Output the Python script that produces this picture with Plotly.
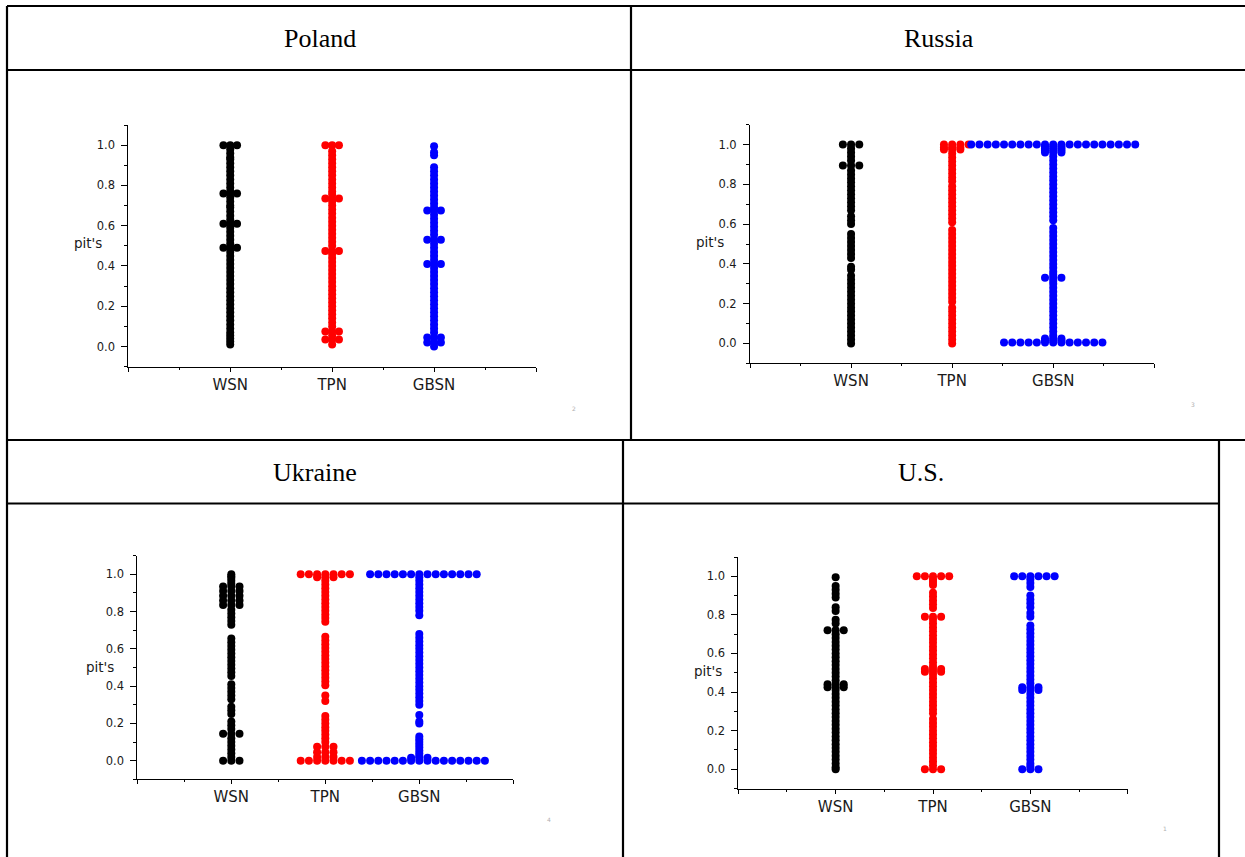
import plotly.graph_objects as go

# ---------------- data ----------------
categories = ["WSN", "TPN", "GBSN"]
countries = ["Poland", "Russia", "Ukraine", "U.S."]
page_marks = ["2", "3", "4", "1"]
y_ticks = [0.0, 0.2, 0.4, 0.6, 0.8, 1.0]
y_title = "pit's"

poland_wsn = [1.0, 1.0, 1.0, 0.98, 0.96, 0.94, 0.93, 0.91, 0.89, 0.87, 0.85, 0.83, 0.81, 0.79, 0.77,
              0.76, 0.76, 0.76, 0.74, 0.72, 0.70, 0.69, 0.67, 0.65, 0.63, 0.61, 0.61, 0.61, 0.59, 0.57,
              0.55, 0.53, 0.51, 0.49, 0.49, 0.49, 0.47, 0.45, 0.43, 0.41, 0.39, 0.37, 0.35, 0.33, 0.31,
              0.29, 0.27, 0.25, 0.23, 0.21, 0.19, 0.17, 0.15, 0.13, 0.11, 0.09, 0.07, 0.055, 0.04,
              0.025, 0.01]
poland_tpn = [1.0, 1.0, 1.0, 0.97, 0.95, 0.93, 0.91, 0.89, 0.87, 0.85, 0.83, 0.81, 0.79, 0.77, 0.755,
              0.735, 0.735, 0.735, 0.72, 0.70, 0.68, 0.66, 0.64, 0.62, 0.60, 0.58, 0.56, 0.54, 0.52,
              0.50, 0.475, 0.475, 0.475, 0.46, 0.44, 0.42, 0.40, 0.38, 0.36, 0.34, 0.32, 0.30, 0.28,
              0.26, 0.24, 0.22, 0.20, 0.18, 0.16, 0.14, 0.12, 0.10, 0.075, 0.075, 0.075, 0.055,
              0.035, 0.035, 0.035, 0.01]
poland_gbsn = [0.995, 0.965, 0.95, 0.89, 0.87, 0.85, 0.83, 0.81, 0.79, 0.77, 0.75, 0.73, 0.71, 0.69,
               0.675, 0.675, 0.675, 0.655, 0.635, 0.615, 0.595, 0.575, 0.555, 0.53, 0.53, 0.53, 0.51,
               0.49, 0.47, 0.45, 0.43, 0.41, 0.41, 0.41, 0.39, 0.37, 0.35, 0.33, 0.31, 0.29, 0.27,
               0.25, 0.23, 0.21, 0.19, 0.17, 0.15, 0.13, 0.11, 0.09, 0.07, 0.045, 0.045, 0.045,
               0.02, 0.02, 0.02, 0.0]

russia_wsn = [1.0, 1.0, 1.0, 0.98, 0.96, 0.94, 0.92, 0.895, 0.895, 0.895, 0.87, 0.85, 0.83, 0.81,
              0.79, 0.77, 0.75, 0.73, 0.71, 0.69, 0.67, 0.64, 0.62, 0.60, 0.55, 0.53, 0.51, 0.49,
              0.47, 0.45, 0.43, 0.385, 0.37, 0.34, 0.32, 0.30, 0.28, 0.26, 0.24, 0.22, 0.20, 0.18,
              0.16, 0.14, 0.12, 0.10, 0.08, 0.06, 0.04, 0.02, 0.0]
russia_tpn = [1.0, 1.0, 1.0, 1.0, 0.985, 0.985, 0.985, 0.975, 0.975, 0.975, 0.955, 0.935, 0.915,
              0.895, 0.875, 0.855, 0.835, 0.815, 0.79, 0.77, 0.75, 0.73, 0.71, 0.69, 0.67, 0.65,
              0.63, 0.61, 0.57, 0.55, 0.53, 0.51, 0.49, 0.47, 0.45, 0.43, 0.41, 0.39, 0.37, 0.35,
              0.33, 0.31, 0.29, 0.27, 0.25, 0.23, 0.21, 0.18, 0.16, 0.14, 0.12, 0.10, 0.08, 0.06,
              0.04, 0.02, 0.0]
russia_gbsn = [1.0, 1.0, 1.0, 1.0, 1.0, 1.0, 1.0, 1.0, 1.0, 1.0, 1.0, 1.0, 1.0, 1.0, 1.0, 1.0, 1.0,
               1.0, 1.0, 1.0, 1.0, 0.99, 0.99, 0.99, 0.98, 0.98, 0.98, 0.97, 0.97, 0.97, 0.96, 0.96,
               0.96, 0.94, 0.92, 0.90, 0.88, 0.86, 0.84, 0.82, 0.80, 0.78, 0.76, 0.74, 0.72, 0.70,
               0.68, 0.66, 0.64, 0.62, 0.58, 0.56, 0.54, 0.52, 0.50, 0.48, 0.46, 0.44, 0.42, 0.40,
               0.38, 0.36, 0.345, 0.33, 0.33, 0.33, 0.315, 0.30, 0.28, 0.26, 0.24, 0.22, 0.20, 0.18,
               0.16, 0.14, 0.12, 0.10, 0.08, 0.06, 0.04, 0.025, 0.025, 0.025, 0.015, 0.015, 0.015,
               0.005, 0.005, 0.005, 0.005, 0.005, 0.005, 0.005, 0.005, 0.005, 0.005, 0.005, 0.005,
               0.005]

ukraine_wsn = [1.0, 0.99, 0.98, 0.965, 0.95, 0.935, 0.935, 0.935, 0.91, 0.91, 0.91, 0.885, 0.885,
               0.885, 0.86, 0.86, 0.86, 0.835, 0.835, 0.835, 0.81, 0.79, 0.77, 0.75, 0.73, 0.655,
               0.635, 0.615, 0.595, 0.575, 0.555, 0.535, 0.515, 0.495, 0.475, 0.455, 0.41, 0.39,
               0.37, 0.35, 0.33, 0.29, 0.27, 0.25, 0.21, 0.19, 0.17, 0.145, 0.145, 0.145, 0.12,
               0.10, 0.08, 0.06, 0.04, 0.02, 0.0, 0.0, 0.0]
ukraine_tpn = [1.0, 1.0, 1.0, 1.0, 1.0, 1.0, 1.0, 0.985, 0.985, 0.985, 0.965, 0.945, 0.925, 0.905,
               0.885, 0.865, 0.845, 0.825, 0.805, 0.785, 0.765, 0.745, 0.665, 0.645, 0.625, 0.605,
               0.585, 0.565, 0.545, 0.525, 0.505, 0.485, 0.465, 0.445, 0.425, 0.405, 0.35, 0.32,
               0.24, 0.22, 0.20, 0.18, 0.16, 0.14, 0.12, 0.10, 0.075, 0.075, 0.075, 0.045, 0.045,
               0.045, 0.02, 0.02, 0.02, 0.0, 0.0, 0.0, 0.0, 0.0, 0.0, 0.0]
ukraine_gbsn = [1.0, 1.0, 1.0, 1.0, 1.0, 1.0, 1.0, 1.0, 1.0, 1.0, 1.0, 1.0, 1.0, 1.0, 0.985, 0.965,
                0.945, 0.925, 0.905, 0.885, 0.865, 0.845, 0.825, 0.805, 0.78, 0.68, 0.66, 0.64,
                0.62, 0.60, 0.58, 0.56, 0.54, 0.52, 0.50, 0.48, 0.46, 0.44, 0.42, 0.40, 0.38, 0.36,
                0.34, 0.32, 0.30, 0.245, 0.21, 0.20, 0.13, 0.115, 0.10, 0.085, 0.07, 0.055, 0.04,
                0.025, 0.015, 0.015, 0.015, 0.0, 0.0, 0.0, 0.0, 0.0, 0.0, 0.0, 0.0, 0.0, 0.0, 0.0,
                0.0, 0.0, 0.0, 0.0, 0.0]

us_wsn = [0.995, 0.95, 0.93, 0.91, 0.89, 0.84, 0.82, 0.775, 0.755, 0.72, 0.72, 0.72, 0.70, 0.68,
          0.66, 0.64, 0.62, 0.60, 0.58, 0.56, 0.54, 0.52, 0.50, 0.48, 0.46, 0.44, 0.44, 0.44, 0.425,
          0.425, 0.425, 0.41, 0.39, 0.37, 0.35, 0.33, 0.31, 0.29, 0.27, 0.25, 0.23, 0.21, 0.19,
          0.17, 0.15, 0.13, 0.11, 0.09, 0.07, 0.05, 0.03, 0.01, 0.0]
us_tpn = [1.0, 1.0, 1.0, 1.0, 1.0, 0.985, 0.97, 0.955, 0.915, 0.895, 0.875, 0.855, 0.835, 0.79, 0.79,
          0.79, 0.775, 0.755, 0.735, 0.715, 0.695, 0.675, 0.655, 0.635, 0.615, 0.595, 0.575, 0.555,
          0.535, 0.52, 0.52, 0.52, 0.505, 0.505, 0.505, 0.49, 0.47, 0.45, 0.43, 0.41, 0.39, 0.37,
          0.35, 0.33, 0.31, 0.29, 0.26, 0.24, 0.22, 0.20, 0.18, 0.16, 0.14, 0.12, 0.10, 0.08, 0.06,
          0.04, 0.02, 0.0, 0.0, 0.0]
us_gbsn = [1.0, 1.0, 1.0, 1.0, 1.0, 1.0, 0.985, 0.965, 0.945, 0.90, 0.88, 0.86, 0.84, 0.81, 0.79,
           0.745, 0.725, 0.705, 0.685, 0.665, 0.645, 0.625, 0.605, 0.585, 0.565, 0.545, 0.525,
           0.505, 0.485, 0.465, 0.445, 0.425, 0.425, 0.425, 0.41, 0.41, 0.41, 0.39, 0.37, 0.35,
           0.33, 0.31, 0.29, 0.27, 0.25, 0.23, 0.21, 0.19, 0.17, 0.15, 0.13, 0.11, 0.09, 0.07,
           0.05, 0.03, 0.015, 0.0, 0.0, 0.0]

panel_data = [
    [poland_wsn, poland_tpn, poland_gbsn],
    [russia_wsn, russia_tpn, russia_gbsn],
    [ukraine_wsn, ukraine_tpn, ukraine_gbsn],
    [us_wsn, us_tpn, us_gbsn],
]

# ---------------- layout / style ----------------
W, H = 1245, 857
colors = ["#000000", "#ff0000", "#0000ff"]
# plot boxes in pixels: (left, right, top, bottom)
boxes = [(128.3, 536.0, 125.0, 366.7),
         (750.0, 1154.3, 124.7, 363.3),
         (137.3, 513.3, 555.7, 779.3),
         (738.3, 1127.7, 557.0, 788.5)]
dot_step_px = [6.8, 8.2, 8.2, 8.1]
title_pos = [(320, 39), (939, 39), (315, 472), (921, 472)]
ytitle_pos = [(88, 243), (710, 242), (100, 667), (708, 671)]
mark_pos = [(574, 408), (1193, 404), (549, 819), (1165, 828)]
X_RANGE = [0, 4]
Y_RANGE = [-0.1, 1.1]


def px(x):
    return x / W


def py(y):
    return 1 - y / H


def swarm(values, center, step):
    """Origin-like column scatter: equal values spread 0, +1, -1, +2, -2 ..."""
    xs, seen = [], {}
    for v in values:
        key = round(v, 4)
        i = seen.get(key, 0)
        seen[key] = i + 1
        if i == 0:
            k = 0
        elif i % 2 == 1:
            k = (i + 1) // 2
        else:
            k = -(i // 2)
        xs.append(center + k * step)
    return xs


fig = go.Figure()
tick_font = dict(family="DejaVu Sans", size=11.5, color="#1a1a1a")
cat_font = dict(family="DejaVu Sans", size=15, color="#1a1a1a")

for p, (series_list, box) in enumerate(zip(panel_data, boxes)):
    l, r, t, b = box
    sfx = "" if p == 0 else str(p + 1)
    px_per_unit = (r - l) / (X_RANGE[1] - X_RANGE[0])
    step = dot_step_px[p] / px_per_unit
    for ci, vals in enumerate(series_list):
        fig.add_trace(go.Scatter(
            x=swarm(vals, ci + 1, step), y=vals, mode="markers",
            marker=dict(size=8, color=colors[ci], line=dict(width=0)),
            xaxis="x" + sfx, yaxis="y" + sfx, showlegend=False,
            name=categories[ci], hoverinfo="y"))
    fig.layout["xaxis" + sfx] = dict(
        domain=[px(l), px(r)], anchor="y" + sfx, range=X_RANGE,
        showline=True, linecolor="black", linewidth=1, showgrid=False, zeroline=False,
        tickmode="array", tickvals=[0, 1, 2, 3, 4], ticktext=[""] + categories + [""],
        ticks="outside", ticklen=4, tickwidth=1, tickcolor="black", tickfont=cat_font,
        minor=dict(ticks="outside", ticklen=2, tick0=0, dtick=0.5, tickcolor="black"),
        fixedrange=True)
    fig.layout["yaxis" + sfx] = dict(
        domain=[py(b), py(t)], anchor="x" + sfx, range=Y_RANGE,
        showline=True, linecolor="black", linewidth=1, showgrid=False, zeroline=False,
        tickmode="array", tickvals=y_ticks, tickformat=".1f",
        ticks="outside", ticklen=6, tickwidth=1, tickcolor="black", tickfont=tick_font,
        ticklabelstandoff=4,
        minor=dict(ticks="outside", ticklen=3, tick0=0, dtick=0.1, tickcolor="black"),
        fixedrange=True)

annotations = []
for p in range(4):
    tx, ty = title_pos[p]
    annotations.append(dict(x=px(tx), y=py(ty), xref="paper", yref="paper", text=countries[p],
                            showarrow=False, xanchor="center", yanchor="middle",
                            font=dict(family="Liberation Serif", size=26, color="black")))
    ax, ay = ytitle_pos[p]
    annotations.append(dict(x=px(ax), y=py(ay), xref="paper", yref="paper", text=y_title,
                            showarrow=False, xanchor="center", yanchor="middle",
                            font=dict(family="DejaVu Sans", size=13.5, color="#1a1a1a")))
    mx, my = mark_pos[p]
    annotations.append(dict(x=px(mx), y=py(my), xref="paper", yref="paper", text=page_marks[p],
                            showarrow=False, xanchor="center", yanchor="middle",
                            font=dict(family="DejaVu Sans", size=6, color="#b0b0b0")))

# table frame lines (pixel positions)
frame = [
    (7, 6, 1245, 6), (7, 70, 1245, 70), (7, 440, 1245, 440), (7, 503.5, 1219, 503.5),
    (7, 6, 7, 857), (631, 6, 631, 440), (623, 440, 623, 857), (1219, 440, 1219, 857),
]
shapes = [dict(type="line", xref="paper", yref="paper", x0=px(a), y0=py(bb), x1=px(c), y1=py(d),
               line=dict(color="black", width=2.2)) for a, bb, c, d in frame]

fig.update_layout(width=W, height=H, margin=dict(l=0, r=0, t=0, b=0),
                  paper_bgcolor="white", plot_bgcolor="white",
                  annotations=annotations, shapes=shapes, showlegend=False)

fig.write_html("out.html", config={"displayModeBar": False},
               post_script="document.body.style.margin='0';document.body.style.overflow='hidden';")
